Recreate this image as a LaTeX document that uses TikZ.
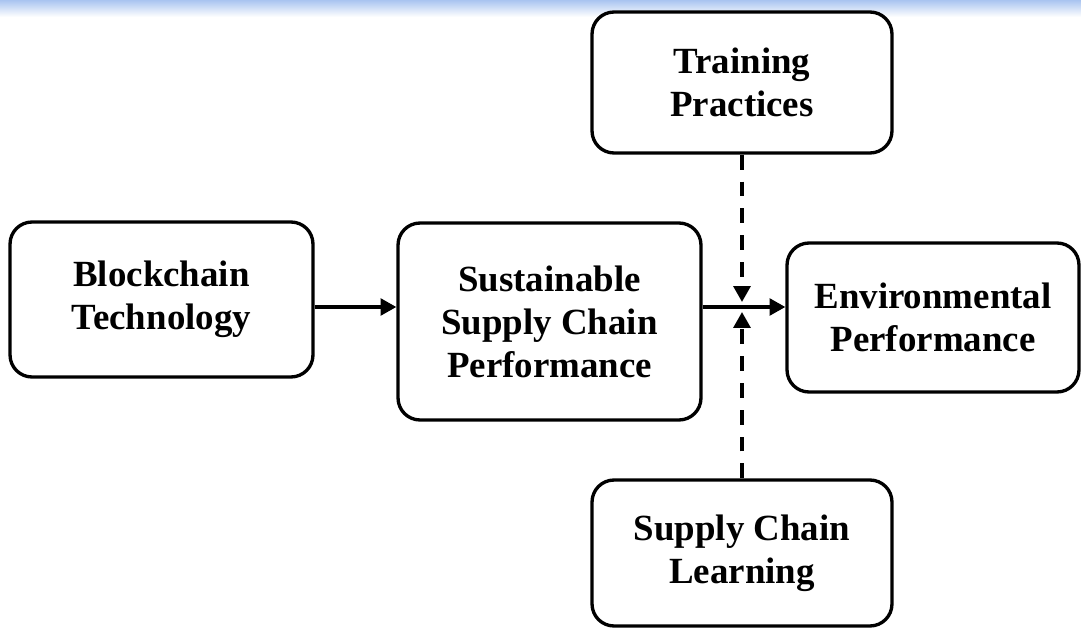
\documentclass[tikz,border=0pt]{standalone}
\usepackage{fontspec}
\setmainfont{Liberation Serif}
\usepackage{tikz}
\usetikzlibrary{positioning, arrows.meta}
\definecolor{band_top}{HTML}{A9C4F0}
\definecolor{box_line}{HTML}{000000}

\begin{document}
\begin{tikzpicture}[
    x=0.02cm, y=-0.02cm,
    % Stili per i blocchi del modello
    construct/.style = {
        draw=box_line,
        fill=white,
        line width=1.9pt,
        rounded corners=0.44cm,
        align=center,
        inner sep=0,
        font=\fontsize{21}{24.5}\selectfont\bfseries
    },
    path_arrow/.style = {
        line width=2pt,
        -{Triangle[length=9pt, width=9.5pt]}
    },
    moderator/.style = {
        path_arrow,
        dash pattern=on 8.5pt off 6.8pt
    }
]

\useasboundingbox (0,0) rectangle (1081,628);

% 1. Fascia sfumata in alto
\shade[top color=band_top, bottom color=white] (0,0) rectangle (1081,17);

% 2. Blocchi
\node[construct, minimum width=6.06cm, minimum height=3.1cm] (bt) at (161.5,299.5)
    {Blockchain\\Technology};
\node[construct, minimum width=6.06cm, minimum height=3.94cm] (sscp) at (549.5,321.5)
    {Sustainable\\Supply Chain\\Performance};
\node[construct, minimum width=5.84cm, minimum height=2.98cm] (ep) at (933,317.5)
    {Environmental\\Performance};
\node[construct, minimum width=6cm, minimum height=2.82cm] (tp) at (742,82.5)
    {Training\\Practices};
\node[construct, minimum width=6cm, minimum height=2.92cm] (scl) at (742,553)
    {Supply Chain\\Learning};

% 3. Frecce
\coordinate (axis) at (0,307);
\draw[path_arrow] (bt.east |- axis) -- (sscp.west |- axis);
\draw[path_arrow] (sscp.east |- axis) -- (ep.west |- axis);

% Moderatori (tratteggiati)
\draw[moderator, shorten >=0.1cm] (tp.south) -- (tp.south |- axis);
\draw[moderator, shorten >=0.1cm] (scl.north) -- (scl.north |- axis);

\end{tikzpicture}
\end{document}
